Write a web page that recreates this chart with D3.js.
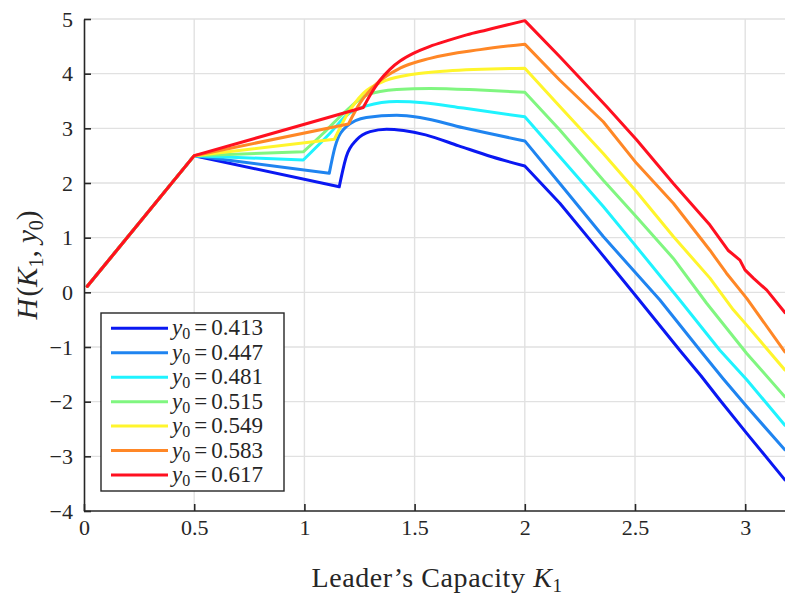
<!DOCTYPE html>
<html>
<head>
<meta charset="utf-8">
<script src="https://cdn.jsdelivr.net/npm/d3@7"></script>
<style>
  html, body { margin: 0; padding: 0; background: #fff; }
  svg { display: block; }
  text { font-family: "Liberation Serif", "DejaVu Serif", serif; fill: #262626; }
</style>
</head>
<body>
<svg id="chart" width="785" height="598"></svg>
<script>
// Initial cost ratios y0 for each curve
const y0Values = [0.413, 0.447, 0.481, 0.515, 0.549, 0.583, 0.617];
const seriesColors = ["#0a18f2", "#1f84f0", "#1ff3ff", "#80f680", "#fff52c", "#ff8726", "#ff1020"];

// Shared rising leg, K1 from ~0 up to 0.5
const risingLeg = [[0.015, 0.11], [0.5, 2.5]];

// Straight leg from K1 = 0.5 to the kink, then the recovery curve up to K1 = 2
const recoveryCurves = [
  [[1.158, 1.93], [1.19, 2.48], [1.237, 2.79], [1.298, 2.94], [1.373, 2.985], [1.45, 2.96], [1.55, 2.88], [1.70, 2.68], [1.85, 2.48], [2.0, 2.31]],
  [[1.113, 2.18], [1.139, 2.66], [1.19, 3.03], [1.281, 3.20], [1.419, 3.24], [1.524, 3.20], [1.721, 3.01], [2.0, 2.77]],
  [[0.995, 2.42], [1.116, 2.91], [1.192, 3.24], [1.281, 3.41], [1.419, 3.49], [1.54, 3.47], [1.721, 3.37], [2.0, 3.21]],
  [[0.995, 2.57], [1.086, 2.91], [1.192, 3.33], [1.283, 3.61], [1.419, 3.71], [1.57, 3.73], [1.797, 3.70], [2.0, 3.66]],
  [[1.136, 2.80], [1.192, 3.24], [1.267, 3.64], [1.373, 3.88], [1.494, 3.99], [1.646, 4.05], [2.0, 4.10]],
  [[1.2, 3.08], [1.252, 3.46], [1.328, 3.82], [1.434, 4.10], [1.57, 4.28], [1.797, 4.44], [2.0, 4.54]],
  [[1.267, 3.38], [1.30, 3.62], [1.343, 3.88], [1.388, 4.08], [1.434, 4.23], [1.494, 4.37], [1.57, 4.50], [1.646, 4.60], [1.736, 4.71], [1.827, 4.80], [1.918, 4.89], [2.0, 4.97]]
];

// Decline beyond K1 = 2
const declineCurves = [
  [[2.0, 2.31], [2.159, 1.63], [2.341, 0.74], [2.507, -0.08], [2.703, -1.06], [2.80, -1.53], [2.885, -1.97], [3.007, -2.58], [3.18, -3.43]],
  [[2.0, 2.77], [2.159, 1.99], [2.356, 1.02], [2.613, -0.14], [2.795, -1.06], [2.90, -1.58], [3.007, -2.09], [3.18, -2.88]],
  [[2.0, 3.21], [2.159, 2.48], [2.356, 1.57], [2.493, 0.90], [2.703, -0.14], [2.885, -1.06], [3.007, -1.60], [3.18, -2.43]],
  [[2.0, 3.66], [2.159, 2.97], [2.356, 2.05], [2.507, 1.38], [2.674, 0.62], [2.825, -0.20], [3.007, -1.12], [3.18, -1.91]],
  [[2.0, 4.10], [2.159, 3.40], [2.356, 2.54], [2.507, 1.84], [2.674, 1.02], [2.84, 0.26], [2.946, -0.32], [3.007, -0.60], [3.18, -1.42]],
  [[2.0, 4.54], [2.159, 3.88], [2.356, 3.12], [2.507, 2.36], [2.674, 1.63], [2.84, 0.77], [2.915, 0.35], [3.007, -0.11], [3.18, -1.09]],
  [[2.0, 4.97], [2.159, 4.31], [2.371, 3.40], [2.507, 2.79], [2.674, 1.99], [2.84, 1.23], [2.922, 0.77], [2.976, 0.59], [2.999, 0.41], [3.037, 0.26], [3.098, 0.04], [3.18, -0.37]]
];

const xTicks = [0, 0.5, 1, 1.5, 2, 2.5, 3];
const yTicks = [-4, -3, -2, -1, 0, 1, 2, 3, 4, 5];

const svg = d3.select("#chart");
const plotLeft = 84, plotTop = 19, plotBottom = 511;
const x = d3.scaleLinear().domain([0, 3.2]).range([plotLeft, plotLeft + 220.4 * 3.2]);
const y = d3.scaleLinear().domain([-4, 5]).range([plotBottom, plotTop]);

// Grid
const grid = svg.append("g").attr("stroke", "#e1e1e1").attr("stroke-width", 1.4);
xTicks.filter(d => d > 0).forEach(d => {
  grid.append("line").attr("x1", x(d)).attr("x2", x(d)).attr("y1", y(-4)).attr("y2", y(5));
});
yTicks.filter(d => d > -4).forEach(d => {
  grid.append("line").attr("x1", x(0)).attr("x2", x(3.2)).attr("y1", y(d)).attr("y2", y(d));
});

// Curves: straight legs drawn linearly, recovery curves smoothed
function buildPath(i) {
  const p = d3.path();
  let started = false;
  const ctx = {
    moveTo(a, b) { if (started) p.lineTo(a, b); else { p.moveTo(a, b); started = true; } },
    lineTo(a, b) { p.lineTo(a, b); },
    bezierCurveTo(a, b, c, d, e, f) { p.bezierCurveTo(a, b, c, d, e, f); },
    closePath() {}
  };
  const lin = d3.line().x(d => x(d[0])).y(d => y(d[1])).context(ctx);
  const smooth = d3.line().x(d => x(d[0])).y(d => y(d[1])).curve(d3.curveMonotoneX).context(ctx);
  lin([risingLeg[0], risingLeg[1], recoveryCurves[i][0]]);
  smooth(recoveryCurves[i]);
  lin(declineCurves[i]);
  return p.toString();
}

svg.append("defs").append("clipPath").attr("id", "plotClip")
  .append("rect").attr("x", plotLeft).attr("y", 0).attr("width", 800).attr("height", plotBottom);

const lines = svg.append("g").attr("clip-path", "url(#plotClip)");
y0Values.forEach((v, i) => {
  lines.append("path")
    .attr("d", buildPath(i))
    .attr("fill", "none")
    .attr("stroke", seriesColors[i])
    .attr("stroke-width", 3)
    .attr("stroke-linejoin", "round")
    .attr("stroke-linecap", "round");
});

// Axes
const xAxis = d3.axisBottom(x).tickValues(xTicks).tickSizeInner(-7).tickSizeOuter(0).tickPadding(8)
  .tickFormat(d => d3.format("")(d));
const yAxis = d3.axisLeft(y).tickValues(yTicks).tickSizeInner(-7).tickSizeOuter(0).tickPadding(11)
  .tickFormat(d => d < 0 ? "\u2212" + Math.abs(d) : String(d));

const gx = svg.append("g").attr("transform", `translate(0,${plotBottom})`).call(xAxis);
const gy = svg.append("g").attr("transform", `translate(${plotLeft},0)`).call(yAxis);
[gx, gy].forEach(g => {
  g.select(".domain").attr("stroke", "#262626").attr("stroke-width", 1.6);
  g.selectAll(".tick line").attr("stroke", "#262626").attr("stroke-width", 1.6);
  g.selectAll(".tick text").style("font-size", "22px").style("fill", "#262626");
});
gx.select(".domain").attr("d", `M${plotLeft},0H785`);

// Axis titles
const xt = svg.append("text").attr("x", 437).attr("y", 587).attr("text-anchor", "middle")
  .style("font-size", "28px").style("letter-spacing", "0.6px");
xt.append("tspan").text("Leader\u2019s Capacity ");
xt.append("tspan").attr("font-style", "italic").text("K");
xt.append("tspan").style("font-size", "19px").attr("dy", 5).text("1");

const yt = svg.append("text").attr("transform", "translate(37,265) rotate(-90)").attr("text-anchor", "middle")
  .style("font-size", "29px");
yt.append("tspan").attr("font-style", "italic").text("H");
yt.append("tspan").attr("dx", 2).text("(");
yt.append("tspan").attr("font-style", "italic").text("K");
yt.append("tspan").style("font-size", "20px").attr("dy", 6).text("1");
yt.append("tspan").attr("dy", -6).text(", ");
yt.append("tspan").attr("font-style", "italic").text("y");
yt.append("tspan").style("font-size", "20px").attr("dy", 6).text("0");
yt.append("tspan").attr("dy", -6).text(")");

// Legend
const legend = svg.append("g");
legend.append("rect").attr("x", 101).attr("y", 313).attr("width", 183).attr("height", 178)
  .attr("fill", "#fff").attr("stroke", "#262626").attr("stroke-width", 1.4);
y0Values.forEach((v, i) => {
  const cy = 328.3 + i * 24.45;
  legend.append("line").attr("x1", 111).attr("x2", 168).attr("y1", cy).attr("y2", cy)
    .attr("stroke", seriesColors[i]).attr("stroke-width", 3);
  const t = legend.append("text").attr("x", 172).attr("y", cy + 7).style("font-size", "23px");
  t.append("tspan").attr("font-style", "italic").text("y");
  t.append("tspan").style("font-size", "16px").attr("dy", 4).text("0");
  t.append("tspan").attr("dy", -4).attr("dx", 4).text("=");
  t.append("tspan").attr("dx", 4).text(d3.format(".3f")(v));
});
</script>
</body>
</html>
